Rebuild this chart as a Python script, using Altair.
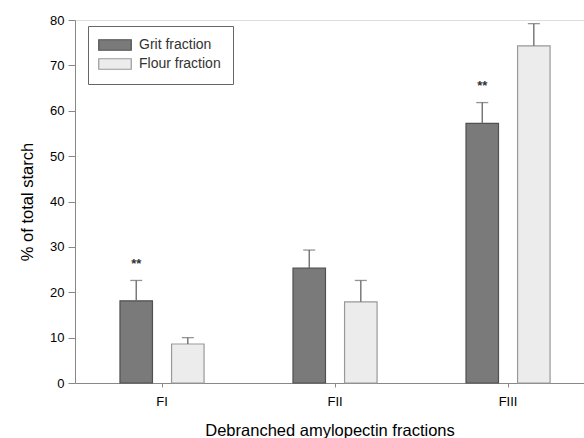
import altair as alt
import pandas as pd

categories = ["FI", "FII", "FIII"]
series = ["Grit fraction", "Flour fraction"]
grit_values = [18.1, 25.3, 57.2]
grit_errors = [4.5, 4.0, 4.6]
flour_values = [8.6, 17.9, 74.3]
flour_errors = [1.4, 4.7, 4.9]
grit_sig = ["**", "", "**"]
flour_sig = ["", "", ""]

rows = []
for i, c in enumerate(categories):
    rows.append({"cat": c, "series": series[0], "value": grit_values[i],
                 "err": grit_errors[i], "sig": grit_sig[i]})
    rows.append({"cat": c, "series": series[1], "value": flour_values[i],
                 "err": flour_errors[i], "sig": flour_sig[i]})
df = pd.DataFrame(rows)

FONT = "Liberation Sans"
TXT = "#333333"

x_enc = alt.X("cat:N", sort=categories,
              scale=alt.Scale(paddingInner=0.514, paddingOuter=0.228, align=0.57),
              axis=alt.Axis(title="Debranched amylopectin fractions", labelAngle=0,
                            tickSize=4, labelPadding=8, titlePadding=14,
                            titleFontSize=16.5, labelFontSize=13,
                            titleFontWeight="normal"))
xoff = alt.XOffset("series:N", sort=series,
                   scale=alt.Scale(paddingInner=0.37, paddingOuter=0))

base = alt.Chart(df)

bars = base.mark_bar(strokeWidth=1.2).encode(
    x=x_enc,
    xOffset=xoff,
    y=alt.Y("value:Q", scale=alt.Scale(domain=[0, 80], nice=False),
            axis=alt.Axis(title="% of total starch", values=list(range(0, 81, 10)),
                          tickSize=7, labelPadding=4, titlePadding=14,
                          titleFontSize=16.5, labelFontSize=13,
                          titleFontWeight="normal", grid=False)),
    fill=alt.Fill("series:N", sort=series,
                  scale=alt.Scale(domain=series, range=["#7a7a7a", "#ececec"]),
                  legend=alt.Legend(title=None, orient="none", legendX=13, legendY=6,
                                    strokeColor="#666666", padding=12,
                                    symbolType="M-3.1,-1h6.2v2h-6.2z",
                                    symbolSize=110, symbolStrokeWidth=1.2,
                                    symbolOffset=8,
                                    labelFontSize=14, labelColor=TXT, labelFont=FONT,
                                    rowPadding=3, labelOffset=17)),
    stroke=alt.Stroke("series:N", sort=series,
                      scale=alt.Scale(domain=series, range=["#505050", "#999999"]),
                      legend=None),
)

err = base.mark_rule(color="#666666", strokeWidth=1.3).encode(
    x=alt.X("cat:N", sort=categories),
    xOffset=xoff,
    y=alt.Y("value:Q"),
    y2=alt.Y2("upper:Q"),
).transform_calculate(upper="datum.value + datum.err")

caps = base.mark_tick(color="#666666", thickness=1.3, size=12, orient="horizontal").encode(
    x=alt.X("cat:N", sort=categories),
    xOffset=xoff,
    y=alt.Y("upper:Q"),
).transform_calculate(upper="datum.value + datum.err")

stars = base.mark_text(fontSize=13, fontWeight="bold", color="#333333", baseline="middle",
                       font=FONT).encode(
    x=alt.X("cat:N", sort=categories),
    xOffset=xoff,
    y=alt.Y("starpos:Q"),
    text="sig:N",
).transform_calculate(starpos="datum.value + datum.err + 3.7")

chart = alt.layer(bars, err, caps, stars).properties(
    width=509, height=363,
    padding={"left": 75, "top": 20, "right": 0, "bottom": 55},
    autosize=alt.AutoSizeParams(type="none"),
).configure_view(stroke=None).configure_axis(
    labelFont=FONT, titleFont=FONT, labelColor=TXT, titleColor=TXT,
    domainColor="#666666", tickColor="#666666", domainWidth=1.2,
).configure(background="white")

chart.save("out.html", embed_options={"renderer": "svg", "actions": False})
